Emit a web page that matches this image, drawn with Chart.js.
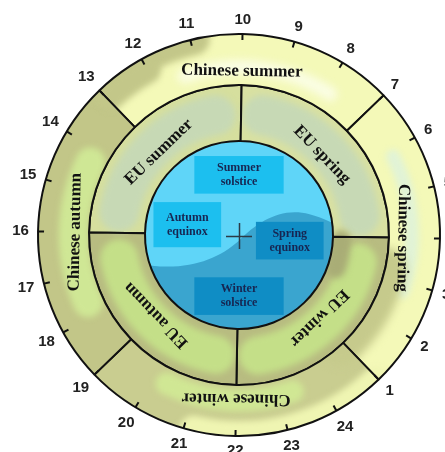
<!DOCTYPE html>
<html>
<head>
<meta charset="utf-8">
<script src="https://cdn.jsdelivr.net/npm/chart.js@4.4.1/dist/chart.umd.min.js"></script>
<style>
  html, body { margin: 0; padding: 0; background: #fff; }
  #wrap { width: 445px; height: 452px; }
</style>
</head>
<body>
<div id="wrap"><canvas id="seasonChart"></canvas></div>
<script>
// clock ring, read clockwise from the top
const hourLabels = ["10", "9", "8", "7", "6", "5", "4", "3", "2", "1", "24", "23",
  "22", "21", "20", "19", "18", "17", "16", "15", "14", "13", "12", "11"];

const chineseSeasons = ["Chinese summer", "Chinese spring", "Chinese winter", "Chinese autumn"];
const chineseHours = [6, 6, 6, 6];
const chineseStart = "13";

const euSeasons = ["EU summer", "EU spring", "EU winter", "EU autumn"];
const euHours = [6, 6, 6, 6];
const euStart = "16";

const sunEvents = [["Summer", "solstice"], ["Autumn", "equinox"], ["Spring", "equinox"], ["Winter", "solstice"]];

const TILT = 1; // the whole dial is turned about a degree
const ringWeights = [51, 56, 94];

const rad = d => d * Math.PI / 180;
const hourAngle = h => hourLabels.indexOf(h) * 360 / hourLabels.length + TILT; // compass degrees

// shading of the rings (f: 0 inner edge .. 1 outer edge, angles in compass degrees)
const outerBase = ["#f4f9b8", "#f4f9b8", "#c9cd90", "#c2c688"];
const outerBlobs = [
  { a0: -44, a1: -14, f: 1.0, w: 32, color: "#c3c789", blur: 3 },
  { a0: -44, a1: -30, f: 0.75, w: 26, color: "#c3c789", blur: 3 },
  { a0: -20, a1: 32, f: 0.35, w: 14, color: "#fafde4", blur: 4 },
  { a0: 62, a1: 108, f: 0.45, w: 14, color: "#e1f3d6", blur: 3 },
  { a0: 102, a1: 136, f: 0.0, w: 42, color: "#c6ca8c", blur: 4 },
  { a0: 136, a1: 192, f: 1.0, w: 30, color: "#eff5b2", blur: 3 },
  { a0: 160, a1: 205, f: 0.3, w: 22, color: "#d0e794", blur: 3 },
  { a0: 245, a1: 295, f: 0.3, w: 30, color: "#cfe795", blur: 3 },
];
const euBase = ["#d6df9e", "#d9e1a2", "#b8bc81", "#b8bc81"];
const euBlobs = [
  { a0: -80, a1: -12, f: 0.5, w: 40, color: "#c7d9b5", blur: 3 },
  { a0: 10, a1: 80, f: 0.5, w: 40, color: "#c7d9b5", blur: 3 },
  { a0: 102, a1: 170, f: 0.5, w: 38, color: "#c4df88", blur: 3 },
  { a0: 190, a1: 258, f: 0.5, w: 38, color: "#c4df88", blur: 3 },
  { a0: 92, a1: 108, f: 0.15, w: 20, color: "#a9ad76", blur: 3 },
];
const eventBoxes = [
  { dx: 0, dy: -0.64, w: 0.95, h: 0.40, fill: "#1cbfef" },
  { dx: -0.55, dy: -0.11, w: 0.72, h: 0.48, fill: "#1cbfef" },
  { dx: 0.54, dy: 0.06, w: 0.72, h: 0.40, fill: "#0f8dc5" },
  { dx: 0, dy: 0.65, w: 0.95, h: 0.40, fill: "#0f8dc5" },
];

const fills = {};

function ringGeometry(chart) {
  const a = chart.chartArea;
  const R = (Math.min(a.right - a.left, a.bottom - a.top) - 2) / 2;
  const total = ringWeights.reduce((s, w) => s + w, 0);
  const rings = [];
  let outer = R;
  ringWeights.forEach(w => {
    const inner = outer - R * w / total;
    rings.push([inner, outer]);
    outer = inner;
  });
  return { cx: (a.left + a.right) / 2, cy: (a.top + a.bottom) / 2, rings };
}

function makeFill(chart, paint) {
  const c = document.createElement("canvas");
  c.width = chart.width;
  c.height = chart.height;
  paint(c.getContext("2d"), c.width, c.height);
  return chart.ctx.createPattern(c, "no-repeat");
}

function paintRing(g, W, H, cx, cy, ring, startDeg, bases, blobs) {
  const [r0, r1] = ring;
  const grad = g.createConicGradient(rad(startDeg - 90), cx, cy);
  const n = bases.length;
  bases.forEach((c, i) => {
    grad.addColorStop(i / n, c);
    grad.addColorStop((i + 1) / n - 0.0005, c);
  });
  g.fillStyle = grad;
  g.fillRect(0, 0, W, H);
  blobs.forEach(b => {
    g.save();
    g.filter = "blur(" + b.blur + "px)";
    g.strokeStyle = b.color;
    g.lineWidth = b.w;
    g.lineCap = "round";
    g.beginPath();
    g.arc(cx, cy, r0 + b.f * (r1 - r0), rad(b.a0 + TILT - 90), rad(b.a1 + TILT - 90));
    g.stroke();
    g.restore();
  });
}

function paintDisk(g, W, H, cx, cy, r) {
  g.fillStyle = "#5fd5f8";
  g.fillRect(0, 0, W, H);
  const P = (u, v) => [cx + u * r, cy + v * r];
  g.fillStyle = "#3aa5cf";
  g.beginPath();
  g.moveTo(...P(-1.1, 0.30));
  g.bezierCurveTo(...P(-0.6, 0.40), ...P(-0.25, 0.28), ...P(0.0, 0.06));
  g.bezierCurveTo(...P(0.2, -0.14), ...P(0.45, -0.30), ...P(0.75, -0.22));
  g.bezierCurveTo(...P(0.9, -0.18), ...P(1.0, -0.12), ...P(1.1, -0.08));
  g.lineTo(...P(1.1, 1.1));
  g.lineTo(...P(-1.1, 1.1));
  g.closePath();
  g.fill();
}

const shading = {
  id: "shading",
  afterLayout(chart) {
    const { cx, cy, rings } = ringGeometry(chart);
    fills[0] = makeFill(chart, (g, W, H) => paintRing(g, W, H, cx, cy, rings[0], hourAngle(chineseStart), outerBase, outerBlobs));
    fills[1] = makeFill(chart, (g, W, H) => paintRing(g, W, H, cx, cy, rings[1], hourAngle(euStart), euBase, euBlobs));
    fills[2] = makeFill(chart, (g, W, H) => paintDisk(g, W, H, cx, cy, rings[2][1]));
  }
};

function ringText(ctx, arcs, names, frac) {
  arcs.forEach((el, i) => {
    const mid = (el.startAngle + el.endAngle) / 2;
    const r = el.innerRadius + frac * (el.outerRadius - el.innerRadius);
    ctx.save();
    ctx.translate(el.x + r * Math.cos(mid), el.y + r * Math.sin(mid));
    ctx.rotate(mid + Math.PI / 2);
    ctx.fillText(names[i], 0, 0);
    ctx.restore();
  });
}

const overlay = {
  id: "overlay",
  afterDatasetsDraw(chart) {
    const ctx = chart.ctx;
    const outer = chart.getDatasetMeta(0).data;
    const { x: cx, y: cy, outerRadius: R } = outer[0];

    // hour ticks and numbers
    ctx.save();
    ctx.strokeStyle = "#111";
    ctx.lineWidth = 2;
    ctx.fillStyle = "#222";
    ctx.font = 'bold 15px "Liberation Sans", Arial, sans-serif';
    ctx.textAlign = "center";
    ctx.textBaseline = "middle";
    hourLabels.forEach(h => {
      const a = rad(hourAngle(h) - 90);
      const c = Math.cos(a), s = Math.sin(a);
      ctx.beginPath();
      ctx.moveTo(cx + c * (R - 6), cy + s * (R - 6));
      ctx.lineTo(cx + c * R, cy + s * R);
      ctx.stroke();
      const w = ctx.measureText(h).width;
      const d = R + 9 + 0.5 * (Math.abs(c) * w + Math.abs(s) * 11);
      ctx.fillText(h, cx + c * d, cy + s * d);
    });

    // season names
    ctx.fillStyle = "#111";
    ctx.font = 'bold 17px "Liberation Serif", "Times New Roman", serif';
    ringText(ctx, outer, chineseSeasons, 0.27);
    ringText(ctx, chart.getDatasetMeta(1).data, euSeasons, 0.38);

    // solstices and equinoxes
    const r = chart.getDatasetMeta(2).data[0].outerRadius;
    ctx.font = 'bold 12px "Liberation Serif", "Times New Roman", serif';
    eventBoxes.forEach((b, i) => {
      const bx = cx + b.dx * r, by = cy + b.dy * r;
      ctx.fillStyle = b.fill;
      ctx.fillRect(bx - b.w * r / 2, by - b.h * r / 2, b.w * r, b.h * r);
      ctx.fillStyle = "#172652";
      ctx.fillText(sunEvents[i][0], bx, by - 7);
      ctx.fillText(sunEvents[i][1], bx, by + 7);
    });

    // centre cross
    ctx.strokeStyle = "#2b3a46";
    ctx.lineWidth = 1.5;
    ctx.beginPath();
    ctx.moveTo(cx - 13, cy + 1.5);
    ctx.lineTo(cx + 13, cy + 1.5);
    ctx.moveTo(cx + 0.5, cy - 12);
    ctx.lineTo(cx + 0.5, cy + 14);
    ctx.stroke();
    ctx.restore();
  }
};

const ringFill = c => fills[c.datasetIndex] || "#dddddd";

new Chart(document.getElementById("seasonChart"), {
  type: "doughnut",
  data: {
    labels: chineseSeasons,
    datasets: [
      {
        label: "Chinese seasons",
        data: chineseHours,
        weight: ringWeights[0],
        rotation: hourAngle(chineseStart),
        backgroundColor: ringFill,
        borderColor: "#111",
        borderWidth: 2,
        hoverBorderWidth: 2,
      },
      {
        label: "EU seasons",
        data: euHours,
        weight: ringWeights[1],
        rotation: hourAngle(euStart),
        backgroundColor: ringFill,
        borderColor: "#111",
        borderWidth: 2,
        hoverBorderWidth: 2,
      },
      {
        label: "Day",
        data: [24],
        weight: ringWeights[2],
        backgroundColor: ringFill,
        borderWidth: 0,
        hoverBorderWidth: 0,
      },
    ],
  },
  options: {
    responsive: true,
    maintainAspectRatio: false,
    animation: false,
    cutout: 0,
    layout: { padding: { left: 37, top: 33, right: 4, bottom: 15 } },
    plugins: { legend: { display: false }, tooltip: { enabled: false } },
    events: [],
  },
  plugins: [shading, overlay],
});
</script>
</body>
</html>
